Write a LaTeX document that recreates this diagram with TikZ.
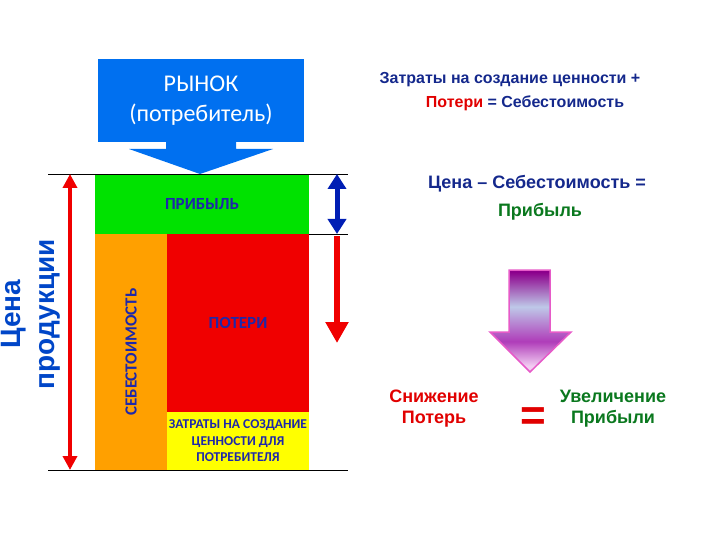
\documentclass[tikz,border=0pt]{standalone}
\usepackage{fontspec}
\setmainfont{Liberation Sans}
\newfontfamily\calibri{Carlito}
\usepackage{xcolor}
\usetikzlibrary{positioning,calc,arrows.meta}

\definecolor{mktblue}{RGB}{0,112,240}
\definecolor{profitgreen}{RGB}{0,226,0}
\definecolor{lossred}{RGB}{240,0,0}
\definecolor{costorange}{RGB}{255,160,0}
\definecolor{valueyellow}{RGB}{255,255,0}
\definecolor{boxtext}{RGB}{30,40,170}
\definecolor{navytext}{RGB}{20,40,140}
\definecolor{greentext}{RGB}{10,120,30}
\definecolor{redtext}{RGB}{225,0,0}
\definecolor{arrowblue}{RGB}{0,30,180}
\definecolor{pricetext}{RGB}{0,70,200}
\definecolor{purpledark}{RGB}{140,0,140}
\definecolor{purplemid}{RGB}{175,60,185}
\definecolor{bluelight}{RGB}{190,200,232}
\definecolor{pinklight}{RGB}{242,205,242}
\definecolor{pinkedge}{RGB}{230,90,200}
\pgfdeclareverticalshading{purplefade}{100bp}{color(0bp)=(pinklight); color(28bp)=(pinklight); color(40bp)=(purplemid); color(57bp)=(bluelight); color(74bp)=(purpledark); color(100bp)=(purpledark)}

\begin{document}
\begin{tikzpicture}[x=1pt,y=-1pt,
    block/.style={inner sep=0pt,outer sep=0pt,text=boxtext,align=center},
    rtext/.style={font=\bfseries\fontsize{16}{20}\selectfont,text=navytext,inner sep=0pt},
    btext/.style={font=\bfseries\fontsize{18}{21}\selectfont,inner sep=0pt,align=center}]
    \useasboundingbox (0,0) rectangle (720,540);

    \node[block,fill=mktblue,minimum width=206pt,minimum height=83pt,text=white,
        font=\calibri\fontsize{24}{30}\selectfont] (market) at (201,100.5) {РЫНОК\\(потребитель)};
    \fill[mktblue] ($(market.south)+(-35,0)$) -- ++(0,7) -- ++(-37,0) -- (200,174) -- (273,149) -- ++(-37,0) -- ++(0,-7) -- cycle; % arrow to the market

    \node[block,fill=profitgreen,minimum width=214pt,minimum height=60pt,font=\calibri\bfseries\fontsize{17}{18}\selectfont] (profit) at (202,204) {ПРИБЫЛЬ};
    \node[block,fill=costorange,minimum width=72pt,minimum height=236pt,anchor=north west] (cost) at (profit.south west) {};
    \node[block,fill=lossred,minimum width=142pt,minimum height=178pt,anchor=north west,font=\calibri\bfseries\fontsize{17}{18}\selectfont] (loss) at (cost.north east) {ПОТЕРИ};
    \node[block,fill=valueyellow,minimum width=142pt,minimum height=58pt,anchor=north west,font=\calibri\bfseries\fontsize{13.5}{16.5}\selectfont] (value) at (loss.south west) {ЗАТРАТЫ НА СОЗДАНИЕ\\ЦЕННОСТИ ДЛЯ\\ПОТРЕБИТЕЛЯ};
    \node[rotate=90,text=boxtext,font=\calibri\bfseries\fontsize{17}{18}\selectfont] (costlabel) at (cost.center) {СЕБЕСТОИМОСТЬ};

    \draw[thin] ($(profit.north west)+(-47,0)$) -- ($(profit.north east)+(39,0)$);
    \draw[thin] (profit.south east) -- ++(39,0);
    \draw[thin] ($(cost.south west)+(-47,0)$) -- ($(value.south east)+(39,0)$);

    \coordinate (ptop) at ($(profit.north west)+(-25,0)$);
    \coordinate (pbot) at ($(cost.south west)+(-25,0)$);
    \draw[lossred,line width=4pt,{Triangle[width=14pt,length=14pt]}-{Triangle[width=14pt,length=14pt]}] (ptop) -- (pbot);
    \node[rotate=90,text=pricetext,align=center,font=\bfseries\fontsize{28}{34}\selectfont] (price) at (31,314) {Цена\\продукции};

    \coordinate (gtop) at ($(profit.north east)+(28,0)$);
    \coordinate (gbot) at ($(profit.south east)+(28,0)$);
    \draw[arrowblue,line width=5pt,{Triangle[width=18pt,length=15pt]}-{Triangle[width=18pt,length=15pt]}] (gtop) -- (gbot);
    \coordinate (ltop) at ($(gbot)+(0,2)$);
    \draw[lossred,line width=6pt,-{Triangle[width=22pt,length=21pt]}] (ltop) -- ++(0,107);

    \node[rtext] (formula1) at (510,80) {Затраты на создание ценности +};
    \node[rtext] (formula2) at (525,103) {\textcolor{redtext}{Потери} = Себестоимость};
    \node[btext,text=navytext] (formula3) at (537,184) {Цена – Себестоимость =};
    \node[btext,text=greentext] (formula4) at (540,212) {Прибыль};

    \shade[shading=purplefade,draw=pinkedge,line width=1.5pt] (509,270) -- (550,270) -- (550,332) -- (571,332) -- (530,372) -- (490,332) -- (509,332) -- cycle;

    \node[btext,text=redtext] (less) at (434,409) {Снижение\\Потерь};
    \node[text=redtext,inner sep=0pt,font=\bfseries\fontsize{44}{44}\selectfont] (eq) at (533,419) {=};
    \node[btext,text=greentext] (more) at (613,409) {Увеличение\\Прибыли};
\end{tikzpicture}
\end{document}
